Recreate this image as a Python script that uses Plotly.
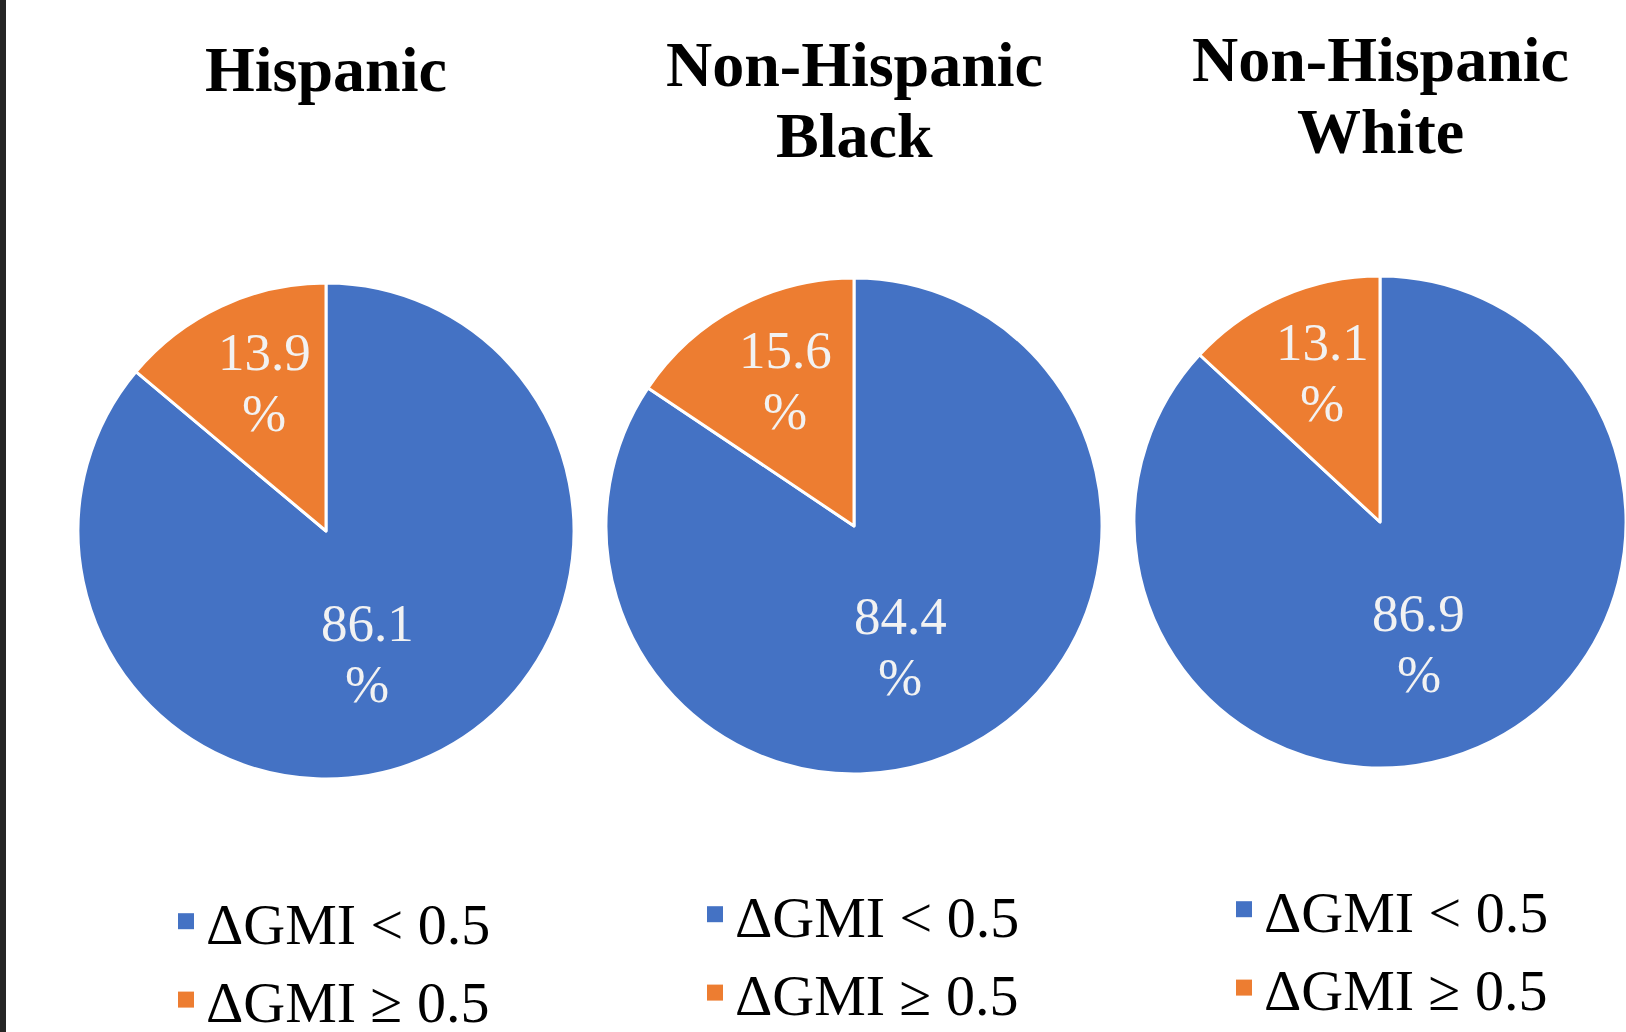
import math
import plotly.graph_objects as go

W, H = 1626, 1032

# ---------------- data ----------------
groups = ["Hispanic", "Non-Hispanic Black", "Non-Hispanic White"]
title_lines = [["Hispanic"], ["Non-Hispanic", "Black"], ["Non-Hispanic", "White"]]
categories = ["ΔGMI < 0.5", "ΔGMI ≥ 0.5"]
pct_lt = [86.1, 84.4, 86.9]   # ΔGMI < 0.5
pct_ge = [13.9, 15.6, 13.1]   # ΔGMI ≥ 0.5

# ---------------- style / layout ----------------
COLORS = ["#4472C4", "#ED7D31"]
FONT = "Liberation Serif, Times New Roman, serif"
LABEL_COLOR = "#F2F2F2"

centers = [(326, 531), (854, 526), (1380, 522)]   # pixel centres of pies
radii = [248, 248, 246]
title_first_line_y = [69, 64, 60]
title_line_gap = 71
title_size = 64
legend_left = [166, 695, 1224]
legend_top = [877, 870, 865]
label_r_frac = [0.52, 0.65]      # radial position of data labels per slice
label_angle_pull = [0.75, 0.9]   # pull of label angle toward vertical axis
label_line_gap = 61


def px(x):
    return x / W


def py(y):
    return 1 - y / H


fig = go.Figure()
annotations = []

for i in range(3):
    cx, cy = centers[i]
    r = radii[i]
    values = [pct_lt[i], pct_ge[i]]
    legend_name = "legend" if i == 0 else f"legend{i + 1}"
    fig.add_trace(go.Pie(
        values=values,
        labels=categories,
        sort=False,
        direction="clockwise",
        rotation=0,
        marker=dict(colors=COLORS, line=dict(color="white", width=3)),
        textinfo="none",
        hoverinfo="label+percent",
        domain=dict(x=[px(cx - r), min(px(cx + r), 1)], y=[py(cy + r), py(cy - r)]),
        showlegend=False,
        name=groups[i],
    ))
    # legend entries for this pie (one legend per pie)
    for k, cat in enumerate(categories):
        fig.add_trace(go.Scatter(
            x=[None], y=[None], mode="markers",
            marker=dict(symbol="square", size=16, color=COLORS[k], line=dict(width=0)),
            name=cat, legend=legend_name, showlegend=True, hoverinfo="skip",
        ))

    # data labels computed from slice angles
    total = sum(values)
    start = 0.0
    for k, v in enumerate(values):
        frac = v / total
        mid = start + frac * 180.0
        start += frac * 360.0
        if k == 0:
            theta = 180.0 + (mid - 180.0) * label_angle_pull[k]
        else:
            theta = 360.0 - (360.0 - mid) * label_angle_pull[k]
        t = math.radians(theta)
        d = label_r_frac[k] * r
        lx = cx + math.sin(t) * d
        ly = cy - math.cos(t) * d
        for j, line in enumerate([f"{v}", "%"]):
            annotations.append(dict(
                x=px(lx), y=py(ly + (j - 0.5) * label_line_gap),
                xref="paper", yref="paper", showarrow=False,
                xanchor="center", yanchor="middle",
                text=line,
                font=dict(family=FONT, size=53, color=LABEL_COLOR),
            ))

    # titles
    for j, line in enumerate(title_lines[i]):
        annotations.append(dict(
            x=px(cx), y=py(title_first_line_y[i] + j * title_line_gap),
            xref="paper", yref="paper", showarrow=False,
            xanchor="center", yanchor="middle",
            text=line,
            font=dict(family=FONT, size=title_size, color="black", weight="bold"),
        ))

legend_common = dict(
    orientation="v",
    xanchor="left", yanchor="top",
    bgcolor="rgba(0,0,0,0)",
    font=dict(family=FONT, size=58, color="black"),
    traceorder="normal",
)

fig.update_layout(
    width=W, height=H,
    margin=dict(l=0, r=0, t=0, b=0, autoexpand=False),
    paper_bgcolor="white",
    plot_bgcolor="white",
    xaxis=dict(visible=False),
    yaxis=dict(visible=False),
    annotations=annotations,
    legend=dict(x=px(legend_left[0]), y=py(legend_top[0]), **legend_common),
    legend2=dict(x=px(legend_left[1]), y=py(legend_top[1]), **legend_common),
    legend3=dict(x=px(legend_left[2]), y=py(legend_top[2]), **legend_common),
    shapes=[dict(type="rect", xref="paper", yref="paper", x0=0, x1=px(6), y0=0, y1=1,
                 fillcolor="#262626", line=dict(width=0), layer="above")],
)

fig.write_html("out.html")
